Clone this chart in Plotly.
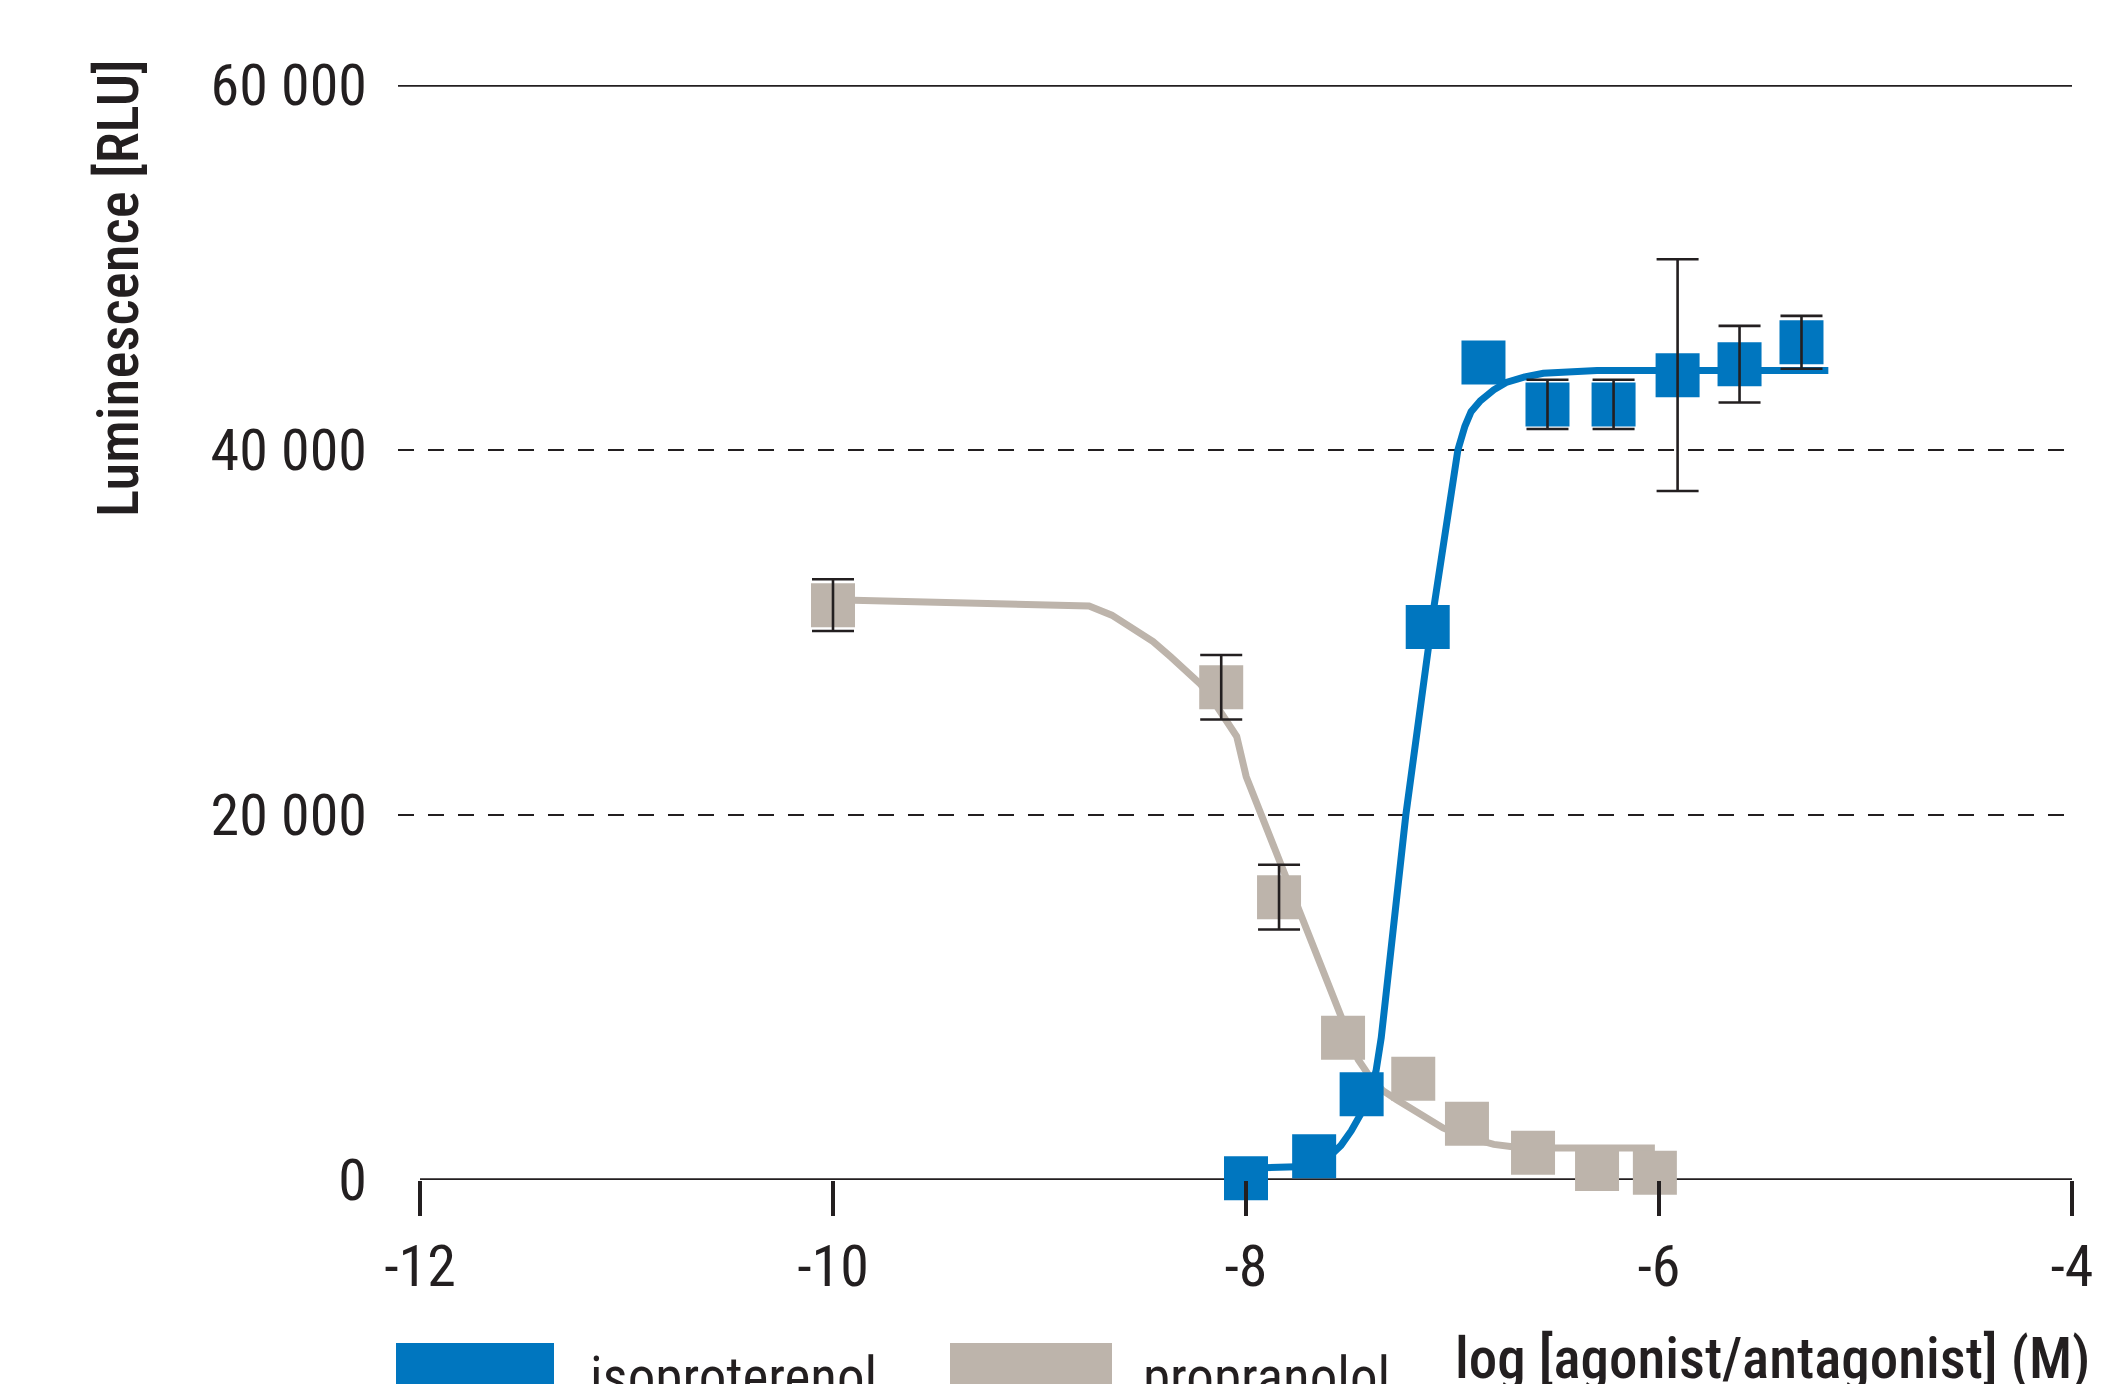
import plotly.graph_objects as go

# ---------------- data ----------------
iso_x = [-8.00, -7.67, -7.44, -7.12, -6.85, -6.54, -6.22, -5.91, -5.61, -5.31]
iso_y = [100, 1300, 4700, 30300, 44800, 42500, 42500, 44100, 44700, 45900]
iso_err = [None, None, None, None, None, 1350, 1350, 6350, 2100, 1450]

prop_x = [-10.00, -8.12, -7.84, -7.53, -7.19, -6.93, -6.61, -6.30, -6.02]
prop_y = [31500, 27000, 15500, 7800, 5550, 3080, 1500, 600, 400]
prop_err = [1420, 1770, 1770, None, None, None, None, None, None]

iso_fit_x = [-8.00, -7.67, -7.60, -7.54, -7.49, -7.44, -7.40, -7.37, -7.345, -7.32, -7.295,
             -7.226, -7.09, -6.974, -6.94, -6.91, -6.865, -6.80, -6.74, -6.65, -6.56,
             -6.30, -5.18]
iso_fit_y = [650, 750, 1250, 1900, 2700, 3700, 4700, 6000, 7800, 10200, 12600,
             20000, 31400, 40000, 41300, 42100, 42700, 43300, 43700, 44000, 44200,
             44350, 44350]

prop_fit_x = [-10.00, -8.76, -8.65, -8.547, -8.45, -8.363, -8.29, -8.223, -8.17, -8.12,
              -8.08, -8.045, -7.999, -7.535, -7.49, -7.457, -7.40, -7.337, -7.27, -7.206,
              -7.13, -7.046, -6.96, -6.88, -6.80, -6.71, -6.61, -6.51, -6.02]
prop_fit_y = [31800, 31450, 30950, 30250, 29500, 28650, 27950, 27200, 26450, 25600,
              24950, 24300, 22100, 8800, 7600, 6600, 5650, 4900, 4400, 3950,
              3400, 2850, 2450, 2150, 1950, 1820, 1770, 1750, 1750]

x_ticks = [-12, -10, -8, -6, -4]
x_tick_text = ["-12", "-10", "-8", "-6", "-4"]
y_ticks = [0, 20000, 40000, 60000]
y_tick_text = ["0", "20 000", "40 000", "60 000"]
dashed_levels = [20000, 40000]
solid_levels = [60000]

series_names = ["isoproterenol", "propranolol"]
x_title = "log [agonist/antagonist] (M)"
y_title = "Luminescence [RLU]"

# ---------------- style ----------------
BLUE = "#0076BF"
GREY = "#BDB4AB"
INK = "#231F20"
W, H = 2105, 1384
OFF = 8                      # page body margin
# plot area in screenshot pixels: x 398..2072, y 85..1180
PX0, PX1, PY0, PY1 = 398, 2072, 85, 1180
L, T = PX0 - OFF, PY0 - OFF
R, B = W - (PX1 - OFF), H - (PY1 - OFF)
PW, PH = PX1 - PX0, PY1 - PY0

def px_x(p):
    return (p - PX0) / PW

def px_y(p):
    return (PY1 - p) / PH

COND = "'Roboto Condensed', 'DejaVu Sans Condensed', Roboto, sans-serif"
TICK_FONT = dict(family=COND, size=58, color=INK, weight=400)
LEG_FONT = dict(family=COND, size=55, color=INK, weight=400)
TITLE_FONT = dict(family=COND, size=57, color=INK, weight=500)

fig = go.Figure()

fig.add_trace(go.Scatter(x=prop_fit_x, y=prop_fit_y, mode="lines",
                         line=dict(color=GREY, width=7), showlegend=False, hoverinfo="skip"))
fig.add_trace(go.Scatter(x=iso_fit_x, y=iso_fit_y, mode="lines",
                         line=dict(color=BLUE, width=7), showlegend=False, hoverinfo="skip"))
fig.add_trace(go.Scatter(x=prop_x, y=prop_y, mode="markers", name=series_names[1],
                         marker=dict(symbol="square", size=44, color=GREY, line=dict(width=0)),
                         cliponaxis=False, showlegend=False))
fig.add_trace(go.Scatter(x=iso_x, y=iso_y, mode="markers", name=series_names[0],
                         marker=dict(symbol="square", size=44, color=BLUE, line=dict(width=0)),
                         cliponaxis=False, showlegend=False))

# error bars on top of markers
for xs, ys, es in [(prop_x, prop_y, prop_err), (iso_x, iso_y, iso_err)]:
    ex = [x for x, e in zip(xs, es) if e is not None]
    ey = [y for y, e in zip(ys, es) if e is not None]
    ee = [e for e in es if e is not None]
    fig.add_trace(go.Scatter(x=ex, y=ey, mode="markers",
                             marker=dict(size=1, opacity=0),
                             error_y=dict(type="data", array=ee, visible=True,
                                          color=INK, thickness=2.6, width=21),
                             showlegend=False, hoverinfo="skip", cliponaxis=False))

shapes = []
for lv in solid_levels:
    shapes.append(dict(type="line", xref="paper", yref="y", x0=0, x1=1, y0=lv, y1=lv,
                       line=dict(color=INK, width=3.5), layer="below"))
for lv in dashed_levels:
    shapes.append(dict(type="line", xref="paper", yref="y", x0=0, x1=1, y0=lv, y1=lv,
                       line=dict(color=INK, width=2.2, dash="16px,14px"), layer="below"))
shapes.append(dict(type="line", xref="x", yref="y", x0=x_ticks[0], x1=x_ticks[-1], y0=0, y1=0,
                   line=dict(color=INK, width=3.5), layer="below"))
# legend swatches
shapes.append(dict(type="rect", xref="paper", yref="paper", x0=px_x(396), x1=px_x(554),
                   y0=px_y(1343), y1=px_y(1430), fillcolor=BLUE, line=dict(width=0)))
shapes.append(dict(type="rect", xref="paper", yref="paper", x0=px_x(950), x1=px_x(1112),
                   y0=px_y(1343), y1=px_y(1430), fillcolor=GREY, line=dict(width=0)))

annotations = [
    dict(text=y_title, xref="paper", yref="paper", x=px_x(118), y=px_y(288),
         xanchor="center", yanchor="middle", textangle=-90, showarrow=False, font=TITLE_FONT),
    dict(text=x_title, xref="paper", yref="paper", x=px_x(2092), y=px_y(1358),
         xanchor="right", yanchor="middle", showarrow=False, font=TITLE_FONT),
    dict(text=series_names[0], xref="paper", yref="paper", x=px_x(588), y=px_y(1343),
         xanchor="left", yanchor="top", showarrow=False, font=LEG_FONT),
    dict(text=series_names[1], xref="paper", yref="paper", x=px_x(1141), y=px_y(1343),
         xanchor="left", yanchor="top", showarrow=False, font=LEG_FONT),
]

fig.update_layout(
    width=W, height=H,
    margin=dict(l=L, r=R, t=T, b=B),
    plot_bgcolor="white", paper_bgcolor="white",
    showlegend=False,
    shapes=shapes, annotations=annotations,
    xaxis=dict(range=[-12 - 22 / 206.5, -4], tickvals=x_ticks, ticktext=x_tick_text,
               ticks="outside", ticklen=35, tickwidth=3.5, tickcolor=INK,
               showgrid=False, zeroline=False, showline=False,
               tickfont=TICK_FONT, ticklabelstandoff=0),
    yaxis=dict(range=[0, 60000], tickvals=y_ticks, ticktext=y_tick_text,
               ticks="", showgrid=False, zeroline=False, showline=False,
               tickfont=TICK_FONT, ticklabelstandoff=30),
)

fig.write_html("out.html")
